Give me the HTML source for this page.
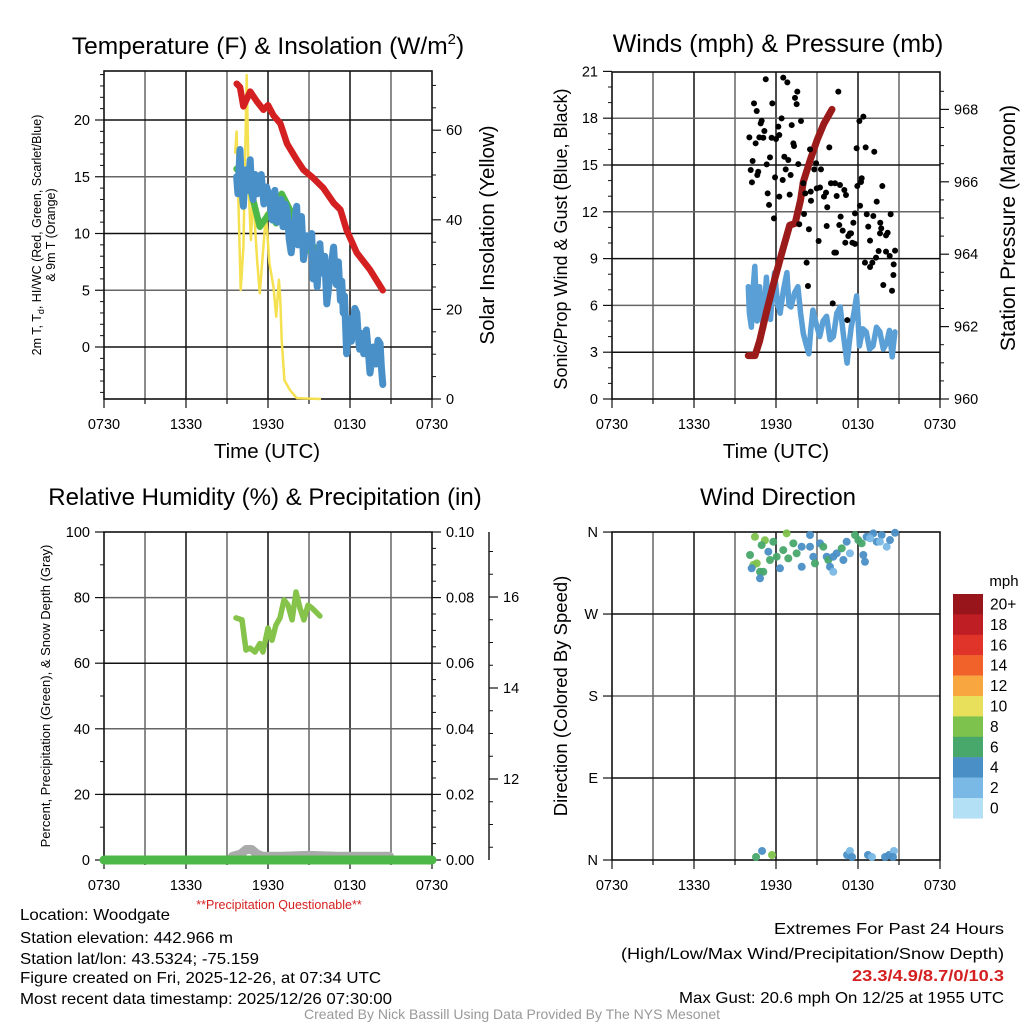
<!DOCTYPE html>
<html><head><meta charset="utf-8"><style>
html,body{margin:0;padding:0;background:#fff}
svg{display:block;font-family:"Liberation Sans",sans-serif}
</style></head><body>
<svg id="c" width="1024" height="1024" viewBox="0 0 1024 1024">
<g id="static" fill="#000">
<text x="268" y="54" font-size="24.5" text-anchor="middle">Temperature (F) &amp; Insolation (W/m<tspan font-size="15" dy="-10">2</tspan><tspan dy="10">)</tspan></text>
<text x="778" y="52" font-size="25" text-anchor="middle">Winds (mph) &amp; Pressure (mb)</text>
<text x="265" y="505" font-size="24" text-anchor="middle">Relative Humidity (%) &amp; Precipitation (in)</text>
<text x="778" y="505" font-size="24" text-anchor="middle">Wind Direction</text>

<text transform="translate(41,235) rotate(-90)" font-size="12.5" text-anchor="middle">2m T, T<tspan font-size="9" dy="3">d</tspan><tspan dy="-3">, HI/WC (Red, Green, Scarlet/Blue)</tspan></text>
<text transform="translate(55,235) rotate(-90)" font-size="12.5" text-anchor="middle">&amp; 9m T (Orange)</text>
<text transform="translate(494,235) rotate(-90)" font-size="20.5" text-anchor="middle">Solar Insolation (Yellow)</text>
<text x="267" y="458" font-size="20.5" text-anchor="middle">Time (UTC)</text>

<text transform="translate(567,239) rotate(-90)" font-size="18" text-anchor="middle">Sonic/Prop Wind &amp; Gust (Blue, Black)</text>
<text transform="translate(1015,228) rotate(-90)" font-size="21" text-anchor="middle">Station Pressure (Maroon)</text>
<text x="776" y="458" font-size="20.5" text-anchor="middle">Time (UTC)</text>

<text transform="translate(50,696) rotate(-90)" font-size="13" text-anchor="middle">Percent, Precipitation (Green), &amp; Snow Depth (Gray)</text>
<text x="279" y="909" font-size="12.5" fill="#d42020" text-anchor="middle">**Precipitation Questionable**</text>
<text transform="translate(567,696) rotate(-90)" font-size="18.5" text-anchor="middle">Direction (Colored By Speed)</text>
<text x="1004" y="586" font-size="15" text-anchor="middle">mph</text>

<g font-size="16">
<text x="20" y="920" textLength="150" lengthAdjust="spacingAndGlyphs">Location: Woodgate</text>
<text x="20" y="943" textLength="213" lengthAdjust="spacingAndGlyphs">Station elevation: 442.966 m</text>
<text x="20" y="964" textLength="239" lengthAdjust="spacingAndGlyphs">Station lat/lon: 43.5324; -75.159</text>
<text x="20" y="983" textLength="361" lengthAdjust="spacingAndGlyphs">Figure created on Fri, 2025-12-26, at 07:34 UTC</text>
<text x="20" y="1004" textLength="372" lengthAdjust="spacingAndGlyphs">Most recent data timestamp: 2025/12/26 07:30:00</text>
</g>
<g font-size="16">
<text x="774" y="934" textLength="230" lengthAdjust="spacingAndGlyphs">Extremes For Past 24 Hours</text>
<text x="621" y="959" textLength="383" lengthAdjust="spacingAndGlyphs">(High/Low/Max Wind/Precipitation/Snow Depth)</text>
<text x="852" y="981" textLength="152" lengthAdjust="spacingAndGlyphs" fill="#d42020" font-weight="bold">23.3/4.9/8.7/0/10.3</text>
<text x="679" y="1003" textLength="325" lengthAdjust="spacingAndGlyphs">Max Gust: 20.6 mph On 12/25 at 1955 UTC</text>
</g>
<text x="512" y="1019" font-size="14" fill="#999" text-anchor="middle">Created By Nick Bassill Using Data Provided By The NYS Mesonet</text>
</g>
<g id="dyn"></g>
</svg>
<script>
// ---- Data (time in hours since 0730 UTC) ----
const timeTicks = ['0730','1330','1930','0130','0730'];
const tempH = [9.71,9.95,10.2,10.7,11.2,11.66,12.0,12.4,12.9,13.4,14.1,14.6,15.3,16.05,16.8,17.3,17.75,18.5,19.46,20.4];
const tempV = [23.2,22.9,21.2,22.5,21.6,20.9,21.3,20.4,19.7,17.9,16.5,15.6,14.9,14.0,12.7,12.1,10.3,8.3,6.8,5.0];
const blueH = [9.7,9.8,9.95,10.05,10.2,10.3,10.4,10.55,10.7,10.8,10.9,11.05,11.2,11.35,11.5,11.7,11.9,12.1,12.3,12.4,12.5,12.65,12.8,12.95,13.1,13.25,13.4,13.55,13.7,13.9,14.1,14.2,14.3,14.45,14.6,14.85,15.1,15.2,15.3,15.45,15.6,15.7,15.8,15.9,16.0,16.15,16.3,16.55,16.8,16.9,17.0,17.15,17.3,17.4,17.5,17.6,17.75,17.85,18.0,18.1,18.2,18.35,18.5,18.6,18.7,18.85,19.0,19.1,19.2,19.35,19.46,19.6,19.7,19.8,19.9,20.05,20.2,20.3,20.4];
const blueV = [15.0,13.5,17.4,14.5,12.4,14.8,15.6,13.8,16.5,14.0,13.0,15.2,13.5,14.8,15.2,12.6,14.1,13.2,11.2,13.0,13.8,11.0,11.5,13.0,10.6,12.6,12.0,9.5,8.3,10.5,12.4,9.0,9.5,11.5,7.7,9.8,8.8,10.0,6.0,8.0,5.3,7.5,9.1,7.0,6.5,8.0,3.8,6.5,8.8,6.8,5.5,7.5,4.1,5.8,3.0,4.5,-0.6,1.5,2.5,0.5,1.8,3.4,3.0,1.0,-0.2,1.2,-0.6,0.8,1.5,-0.5,-2.3,-1.0,0.0,-1.2,-1.5,0.6,0.3,-1.8,-3.3];
const dewH = [9.7,10.2,10.7,11.4,12.1,12.6,13.0,13.6,14.3,14.8,15.4,15.6];
const dewV = [15.7,15.0,14.0,10.6,11.8,10.9,13.5,12.1,10.0,8.5,8.8,7.7];
const solH = [9.6,9.7,10.0,10.2,10.44,10.6,10.75,10.9,11.2,11.4,11.66,11.85,12.1,12.4,12.6,12.8,12.9,13.0,13.2,13.6,14.1,15.8];
const solV = [55,59.7,24.3,34,72.3,45.9,35.5,45.9,31,23.6,34,41.4,30.3,25,18.4,26.6,22.1,13.2,4.2,2.0,0.2,0];
const windH = [9.97,10.05,10.2,10.3,10.45,10.6,10.7,10.8,10.95,11.1,11.2,11.3,11.45,11.6,11.75,11.9,12.1,12.3,12.55,12.8,12.95,13.1,13.35,13.6,13.8,14.0,14.2,14.4,14.55,14.7,14.95,15.2,15.45,15.7,15.95,16.2,16.45,16.7,16.95,17.2,17.35,17.5,17.7,17.9,18.0,18.1,18.35,18.6,18.85,19.1,19.35,19.6,19.85,20.1,20.3,20.5,20.6,20.7];
const windV = [7.2,5.5,4.6,6.8,8.5,5.0,5.7,7.2,5.2,4.6,6.5,7.8,5.5,5.1,7.0,8.1,6.2,5.5,7.0,8.1,6.0,5.9,6.8,7.2,5.5,4.2,3.5,2.9,4.5,5.7,4.8,4.0,5.0,5.3,3.8,4.0,5.5,5.9,4.0,2.3,3.5,4.6,5.5,6.6,5.2,3.4,4.5,4.3,3.2,3.4,4.6,4.3,3.2,3.6,4.4,2.7,3.5,4.3];
const presH = [9.97,10.46,10.8,11.3,11.9,12.4,13.0,13.4,13.8,14.0,14.5,15.0,15.5,16.1];
const presV = [961.2,961.2,961.6,962.4,963.3,964.0,964.8,964.85,965.5,966.0,966.6,967.15,967.6,968.0];
const gustH = [11.25,12.53,12.83,13.56,13.39,13.51,16.56,10.39,11.73,10.59,10.95,10.88,12.41,13.83,12.17,13.15,11.15,10.05,10.78,11.07,11.68,12.0,12.24,10.51,13.27,13.32,14.49,15.9,17.9,18.56,19.19,18.1,18.39,11.56,10.29,11.32,12.61,12.9,13.63,10.15,10.7,10.63,12.71,13.07,14.93,14.8,15.29,11.93,12.49,10.24,14.0,14.54,14.98,15.22,15.66,15.51,16.02,16.32,16.68,17.0,17.12,16.44,18.27,17.95,18.22,19.78,11.39,12.24,13.0,14.14,14.56,15.75,11.49,18.15,19.37,11.85,14.05,13.7,17.78,18.64,19.12,20.39,16.73,17.66,18.75,19.63,19.7,19.61,20.17,20.05,15.71,16.63,16.88,17.41,17.29,17.49,14.41,15.12,17.07,17.59,17.78,18.88,19.51,20.05,20.71,19.32,20.32,16.27,16.39,18.51,19.05,18.88,20.61,20.59,14.24,14.34,19.85,20.49,16.15,17.22];
const gustV = [20.5,20.6,20.3,19.7,19.3,18.9,19.7,18.95,18.95,18.46,17.84,17.67,17.99,17.82,17.46,17.56,17.18,16.77,16.77,16.75,16.75,16.67,16.92,16.39,16.39,16.22,16.0,16.13,16.07,16.13,15.85,17.82,18.1,15.49,15.26,15.04,15.53,15.32,15.06,14.68,14.57,14.36,14.72,14.36,15.11,14.72,14.72,14.21,14.04,13.89,13.83,13.29,13.5,13.56,13.23,12.97,13.83,13.83,13.72,13.4,13.08,13.01,14.15,13.65,13.91,13.65,13.18,12.97,13.1,13.18,12.71,12.29,12.44,12.39,12.65,11.58,11.86,11.2,11.9,11.84,11.73,11.84,11.69,11.3,11.05,11.3,10.94,10.62,10.66,10.49,11.09,11.15,10.79,10.62,10.45,10.62,10.88,10.13,10.02,10.02,9.94,10.15,9.49,9.45,9.51,9.06,9.17,9.38,9.38,8.74,8.74,8.46,8.63,7.95,8.74,7.24,7.31,6.94,6.13,5.06];
const rhH = [9.66,10.1,10.39,10.68,11.05,11.41,11.63,12.0,12.29,12.58,12.88,13.17,13.46,13.76,14.05,14.34,14.63,14.93,15.22,15.51,15.8];
const rhV = [73.8,73.2,64,64.6,63.4,66,63.4,70.7,67,71.6,73.8,79.3,77.7,73.2,81.7,76.8,73.2,77.7,76.8,75.6,74.4];
const precipH = [0,24];
const precipV = [0,0];
const snowH = [9.4,10.0,10.4,10.8,11.2,11.6,13,15,17,19,20.9];
const snowV = [10.3,10.35,10.45,10.45,10.35,10.3,10.3,10.32,10.3,10.3,10.3];
const dirH = [10.46,11.19,10.95,11.8,10.1,10.34,10.59,10.22,10.83,11.07,10.83,11.44,11.56,12.05,12.29,12.53,12.78,12.9,13.27,13.51,13.88,13.88,14.49,14.49,14.73,14.85,15.22,15.46,15.71,15.83,15.95,16.19,16.19,16.44,16.81,16.93,17.17,17.41,17.78,18.02,18.39,18.51,18.63,18.27,19.12,19.37,19.73,20.1,20.34,20.71,19.61,18.88,10.54,10.98,11.71,17.2,17.41,17.56,18.73,19.02,19.98,20.27,20.63,20.56];
const dirV = [354.8,351,345.7,349.4,334.8,323.8,325.6,320.2,316.4,316.4,309.2,338.4,329.3,332.9,320.2,340.2,358.6,331.1,347.6,336.6,343.9,321.9,356.7,343.9,332.9,325.6,347.6,343.9,332.9,329.3,321.9,332.9,316.4,336.6,342.1,329.3,349.4,336.6,356.7,351.2,334.8,327.4,354.8,347.6,358.6,349.4,356.7,343.9,351.2,359.2,349.4,353.1,3.3,9.9,5.5,5.5,9.9,3.3,5.5,3.3,3.3,5.5,9.9,3.3];
const dirSpd = [8.5,8.5,7,7,7,8.5,8.5,5,7,7,5,5,7,7,5,7,8.5,7,7,7,5,5,5,5,5,7,5,7,5,7,5,5,3,5,7,5,5,3,7,7,5,5,5,7,5,5,5,3,5,5,3,3,7,5,8.5,5,3,5,5,3,5,5,3,5];
const cbLabels = ['20+','18','16','14','12','10','8','6','4','2','0'];
const cbColors = ['#98161b','#c01e25','#e0342a','#f0622a','#f8a640','#e8e05a','#7dc24c','#48a86c','#4a8fc6','#7ab8e6','#b4e0f6'];

// ---- helpers ----
const NS='http://www.w3.org/2000/svg';
const root=document.getElementById('dyn');
function mk(tag,attrs,parent){const e=document.createElementNS(NS,tag);for(const k in attrs)e.setAttribute(k,attrs[k]);(parent||root).appendChild(e);return e;}
const HX=328/24;
function tx(x0,h){return x0+h*HX;}
function txt(x,y,s,size,anchor){const t=mk('text',{x:x,y:y,'font-size':size,'text-anchor':anchor});t.textContent=s;return t;}
function polyline(hs,vs,x0,fy,color,w,name){
  const p=hs.map((h,i)=>tx(x0,h).toFixed(1)+','+fy(vs[i]).toFixed(1)).join(' ');
  const e=mk('polyline',{points:p,fill:'none',stroke:color,'stroke-width':w,'stroke-linejoin':'round','stroke-linecap':'round'});
  
  
  return e;
}
function frame(x0,y0,x1,y1,hlines,name){
  const g=mk('g',{});
  
  
  for(let k=1;k<8;k++){const x=x0+k*41;mk('line',{x1:x,y1:y0,x2:x,y2:y1,stroke:k%2?'#666':'#111','stroke-width':1.5},g);}
  hlines.forEach((y,i)=>mk('line',{x1:x0,y1:y,x2:x1,y2:y,stroke:i%2?'#666':'#111','stroke-width':1.5},g));
  mk('rect',{x:x0,y:y0,width:x1-x0,height:y1-y0,fill:'none',stroke:'#111','stroke-width':1.6},g);
  for(let k=0;k<=8;k++){const x=x0+k*41;mk('line',{x1:x,y1:y1,x2:x,y2:y1+(k%2?5:9),stroke:'#111','stroke-width':1.2},g);}
  timeTicks.forEach((s,i)=>{const t=txt(x0+i*82,y1+30,s,14.5,'middle');g.appendChild(t);});
  return g;
}
function yTicks(x,vals,fy,labels,side,name,minor){
  const g=mk('g',{});
  
  
  const d=side==='left'?-1:1;
  if(minor)minor.forEach(v=>mk('line',{x1:x,y1:fy(v),x2:x+d*4,y2:fy(v),stroke:'#111','stroke-width':1},g));
  vals.forEach((v,i)=>{const y=fy(v);mk('line',{x1:x,y1:y,x2:x+d*9,y2:y,stroke:'#111','stroke-width':1.2},g);
    const t=txt(x+d*14,y+5,labels[i],14.5,side==='left'?'end':'start');g.appendChild(t);});
  return g;
}

// ---- Panel 1: temperature ----
const tY=v=>347-v*11.35, sY=w=>399-w*4.48;
frame(104,71,432,399,[tY(0),tY(5),tY(10),tY(15),tY(20)],'temperature-plot-frame');
yTicks(104,[0,5,10,15,20],tY,['0','5','10','15','20'],'left','temperature-y-axis',[-4,-3,-2,-1,1,2,3,4,6,7,8,9,11,12,13,14,16,17,18,19,21,22,23,24]);
yTicks(432,[0,20,40,60],sY,['0','20','40','60'],'right','insolation-y-axis',[5,10,15,25,30,35,45,50,55,65,70]);
polyline(solH,solV,104,sY,'#f5e050',2.5,'insolation-line');
polyline(dewH,dewV,104,tY,'#4cb848',6.5,'dewpoint-line');
polyline(blueH,blueV,104,tY,'#4a90c8',7,'temperature-9m-line');
polyline(tempH,tempV,104,tY,'#d42020',6.5,'temperature-2m-line');

// ---- Panel 2: winds ----
const wY=m=>399-m*15.6, pY=p=>399-(p-960)*36.2;
frame(612,72,940,399,[3,6,9,12,15,18].map(wY),'winds-plot-frame');
yTicks(612,[0,3,6,9,12,15,18,21],wY,['0','3','6','9','12','15','18','21'],'left','wind-y-axis',[1,2,4,5,7,8,10,11,13,14,16,17,19,20]);
yTicks(940,[960,962,964,966,968],pY,['960','962','964','966','968'],'right','pressure-y-axis',[960.5,961,961.5,962.5,963,963.5,964.5,965,965.5,966.5,967,967.5,968.5]);
polyline(windH,windV,612,wY,'#5a9fd6',5.5,'wind-speed-line');
polyline(presH,presV,612,pY,'#9b1b1b',7,'pressure-line');
gustH.forEach((h,i)=>{const c=mk('circle',{cx:tx(612,h),cy:wY(gustV[i]),r:3,fill:'#000'});
  
  });

// ---- Panel 3: humidity ----
const rY=v=>860-v*3.28, prY=v=>860-v*3280, snY=v=>779-(v-12)*45.5;
frame(104,532,432,860,[20,40,60,80].map(rY),'humidity-plot-frame');
yTicks(104,[0,20,40,60,80,100],rY,['0','20','40','60','80','100'],'left','humidity-y-axis',[10,30,50,70,90]);
yTicks(432,[0,0.02,0.04,0.06,0.08,0.10],prY,['0.00','0.02','0.04','0.06','0.08','0.10'],'right','precip-y-axis',[0.005,0.01,0.015,0.025,0.03,0.035,0.045,0.05,0.055,0.065,0.07,0.075,0.085,0.09,0.095]);
mk('line',{x1:489,y1:532,x2:489,y2:860,stroke:'#111','stroke-width':1.4});
yTicks(489,[12,14,16],snY,['12','14','16'],'right','snow-depth-y-axis',[10.5,11,11.5,12.5,13,13.5,14.5,15,15.5,16.5,17]);
polyline(snowH,snowV,104,snY,'#aaa',9,'snow-depth-line');
polyline(precipH,precipV,104,prY,'#4cb848',9,'precipitation-line');
polyline(rhH,rhV,104,rY,'#86c34a',5.5,'relative-humidity-line');

// ---- Panel 4: wind direction ----
const dY=d=>860-d*0.911;
frame(612,532,940,860,[90,180,270].map(dY),'direction-plot-frame');
yTicks(612,[0,90,180,270,360],dY,['N','E','S','W','N'],'left','direction-y-axis',null);
function spdColor(s){const b=Math.min(10,Math.floor(s/2));return cbColors[10-b];}
dirH.forEach((h,i)=>{const c=mk('circle',{cx:tx(612,h),cy:dY(dirV[i]),r:4,fill:spdColor(dirSpd[i]),'fill-opacity':0.95});
  
  });
cbColors.forEach((col,i)=>{const y=594+i*20.4;
  const r=mk('rect',{x:953,y:y,width:30,height:20.6,fill:col});
  
  
  const t=txt(990,y+15.5,cbLabels[i],15.5,'start');
  
  });
</script>
</body></html>
